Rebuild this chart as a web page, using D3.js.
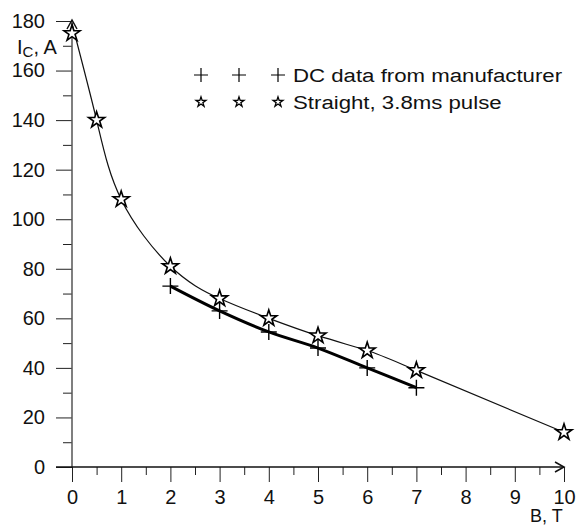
<!DOCTYPE html>
<html>
<head>
<meta charset="utf-8">
<script src="https://cdn.jsdelivr.net/npm/d3@7"></script>
<style>
  body { margin: 0; background: #fff; }
  text { font-family: "Liberation Sans", Arial, sans-serif; fill: #111; }
  .axis path, .axis line { stroke: #222; }
</style>
</head>
<body>
<div id="chart"></div>
<script>
// data
const straightB = [0, 0.5, 1, 2, 3, 4, 5, 6, 7, 10];
const straightI = [175, 140, 108, 81, 68, 60, 53, 47, 39, 14];
const dcB = [2, 3, 4, 5, 6, 7];
const dcI = [73, 63, 54.5, 48, 40, 32];
const xTicks = [0, 1, 2, 3, 4, 5, 6, 7, 8, 9, 10];
const yTicks = [0, 20, 40, 60, 80, 100, 120, 140, 160, 180];
const legendLabels = ["DC data from manufacturer", "Straight, 3.8ms pulse"];

const svgWidth = 576, svgHeight = 526;
const svg = d3.select("#chart").append("svg")
  .attr("width", svgWidth).attr("height", svgHeight);

const x = d3.scaleLinear().domain([0, 10]).range([72, 564]);
const y = d3.scaleLinear().domain([0, 180]).range([467, 21]);

// minor ticks
svg.append("g").attr("class", "axis")
  .attr("transform", `translate(${x(0)},0)`)
  .call(d3.axisLeft(y).tickValues(d3.range(10, 180, 20)).tickSize(9).tickFormat(""))
  .call(g => g.select(".domain").remove());
svg.append("g").attr("class", "axis")
  .attr("transform", `translate(0,${y(0)})`)
  .call(d3.axisBottom(x).tickValues(d3.range(0.5, 10, 1)).tickSize(8).tickFormat(""))
  .call(g => g.select(".domain").remove());

// major ticks + labels
const yAxis = svg.append("g").attr("class", "axis")
  .attr("transform", `translate(${x(0)},0)`)
  .call(d3.axisLeft(y).tickValues(yTicks).tickSize(16).tickPadding(11))
  .call(g => g.select(".domain").remove());
yAxis.selectAll("text").style("font-size", "20px").attr("font-family", null);

const xAxis = svg.append("g").attr("class", "axis")
  .attr("transform", `translate(0,${y(0)})`)
  .call(d3.axisBottom(x).tickValues(xTicks).tickSize(15).tickPadding(8))
  .call(g => g.select(".domain").remove());
xAxis.selectAll("text").style("font-size", "20px").attr("font-family", null);

// axis lines with arrows
svg.append("line").attr("x1", x(0)).attr("x2", x(0))
  .attr("y1", y(0)).attr("y2", y(180) - 1)
  .attr("stroke", "#555").attr("stroke-width", 1.5);
svg.append("line").attr("x1", 56).attr("x2", x(10))
  .attr("y1", y(0)).attr("y2", y(0))
  .attr("stroke", "#111").attr("stroke-width", 1.5);
svg.append("path")
  .attr("d", `M${x(0) - 5},${y(180) + 8}L${x(0)},${y(180) - 1}L${x(0) + 5},${y(180) + 8}`)
  .attr("fill", "none").attr("stroke", "#111").attr("stroke-width", 1.5);
svg.append("path")
  .attr("d", `M${x(10) - 9},${y(0) - 5}L${x(10)},${y(0)}L${x(10) - 9},${y(0) + 5}`)
  .attr("fill", "none").attr("stroke", "#111").attr("stroke-width", 1.5);

// axis titles
const yLab = svg.append("text").attr("x", 17).attr("y", 54).style("font-size", "20px");
yLab.append("tspan").text("I");
yLab.append("tspan").text("C").style("font-size", "15px").attr("dy", 3);
yLab.append("tspan").text(", A").attr("dy", -3);
svg.append("text").attr("x", 530).attr("y", 522).style("font-size", "18px").text("B, T");

// curves
const straight = straightB.map((b, i) => [b, straightI[i]]);
const dc = dcB.map((b, i) => [b, dcI[i]]);
const natural = d3.line().x(d => x(d[0])).y(d => y(d[1])).curve(d3.curveNatural);
const smooth = d3.line().x(d => x(d[0])).y(d => y(d[1])).curve(d3.curveCatmullRom.alpha(0.5));

svg.append("path").datum([[0, 179]].concat(straight.slice(1)))
  .attr("d", natural).attr("fill", "none").attr("stroke", "#111").attr("stroke-width", 1.2);
svg.append("path").datum(dc)
  .attr("d", smooth).attr("fill", "none").attr("stroke", "#000").attr("stroke-width", 3);

// markers
const star = d3.symbol().type(d3.symbolStar);
const cross = (s) => `M${-s},0H${s}M0,${-s}V${s}`;

svg.selectAll(".dcpt").data(dc).enter().append("path")
  .attr("transform", d => `translate(${x(d[0])},${y(d[1])})`)
  .attr("d", cross(8)).attr("stroke", "#000").attr("stroke-width", 1.4);

svg.selectAll(".stpt").data(straight).enter().append("path")
  .attr("transform", d => `translate(${x(d[0])},${y(d[1])})`)
  .attr("d", star.size(80)).attr("fill", "#fff").attr("stroke", "#000").attr("stroke-width", 1.6);

// legend
const legX = [201, 239, 278];
legendLabels.forEach((lab, i) => {
  const ly = 75 + i * 27;
  legX.forEach(lx => {
    if (i === 0) {
      svg.append("path").attr("transform", `translate(${lx},${ly})`)
        .attr("d", cross(7)).attr("stroke", "#000").attr("stroke-width", 1.2);
    } else {
      svg.append("path").attr("transform", `translate(${lx},${ly})`)
        .attr("d", star.size(30)).attr("fill", "#fff").attr("stroke", "#000").attr("stroke-width", 1.3);
    }
  });
  svg.append("text").attr("transform", `translate(293,${ly + 7}) scale(1.17,1)`)
    .style("font-size", "19px").text(lab);
});
</script>
</body>
</html>
